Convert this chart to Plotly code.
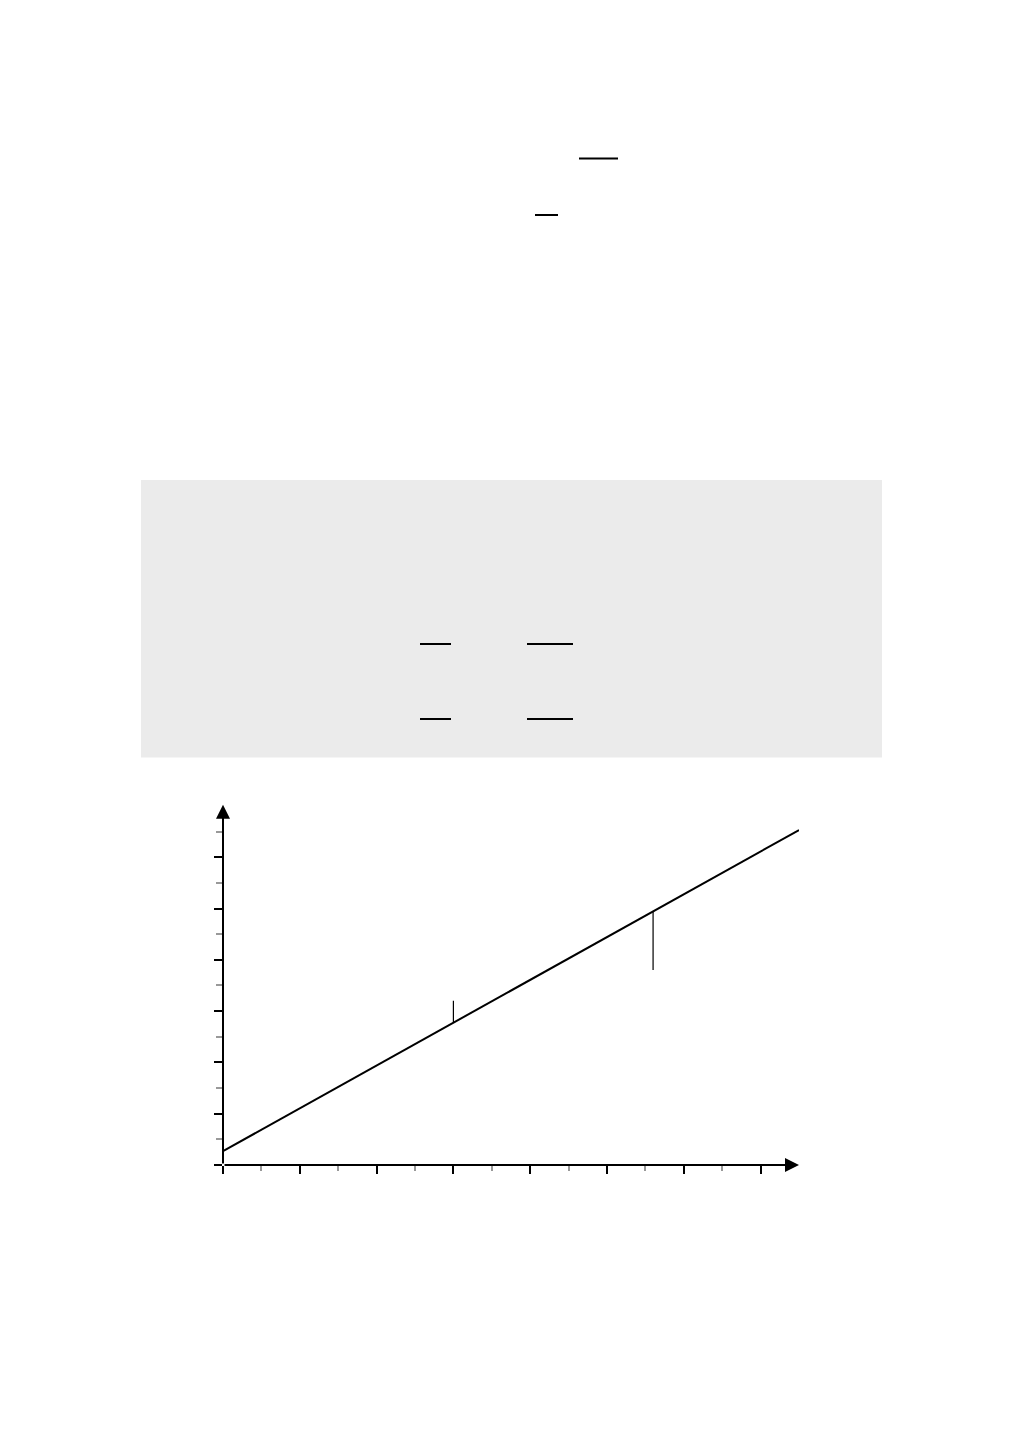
import plotly.graph_objects as go

W, H = 1009, 1441

# ---- data ----
line_x = [0.0, 7.5]
line_y = [0.27, 6.53]
obs_x = [3.0, 5.6]
obs_y = [3.2, 3.8]
fit_y = [2.77, 4.95]
x_major = [0, 1, 2, 3, 4, 5, 6, 7]
x_minor = [0.5, 1.5, 2.5, 3.5, 4.5, 5.5, 6.5]
y_major = [0, 1, 2, 3, 4, 5, 6]
y_minor = [0.5, 1.5, 2.5, 3.5, 4.5, 5.5, 6.5]
x_max, y_max = 7.5, 7.02


def px(x):
    return x / W


def py(y):
    return 1 - y / H


fig = go.Figure()

fig.add_trace(go.Scatter(x=line_x, y=line_y, mode="lines",
                         line=dict(color="black", width=2), hoverinfo="skip"))
rx, ry = [], []
for x, o, f in zip(obs_x, obs_y, fit_y):
    rx += [x, x, None]
    ry += [o, f, None]
fig.add_trace(go.Scatter(x=rx, y=ry, mode="lines",
                         line=dict(color="black", width=1.2), hoverinfo="skip"))

shapes = []
# grey box
shapes.append(dict(type="rect", xref="paper", yref="paper",
                   x0=px(141), x1=px(882), y0=py(757.5), y1=py(480),
                   fillcolor="#ebebeb", line=dict(width=0), layer="below"))
# fraction bars
for (a, b, y) in [(579, 618, 158.5), (535, 558, 215), (420, 451, 644), (527, 573, 644),
                  (420, 451, 719), (527, 573, 719)]:
    shapes.append(dict(type="line", xref="paper", yref="paper",
                       x0=px(a), x1=px(b), y0=py(y), y1=py(y),
                       line=dict(color="black", width=2)))

annotations = [
    dict(x=x_max, y=0, ax=0, ay=0, xref="x", yref="y", axref="x", ayref="y",
         showarrow=True, arrowhead=2, arrowsize=1.4, arrowwidth=2, arrowcolor="black", text=""),
    dict(x=0, y=y_max, ax=0, ay=0, xref="x", yref="y", axref="x", ayref="y",
         showarrow=True, arrowhead=2, arrowsize=1.4, arrowwidth=2, arrowcolor="black", text=""),
]

fig.update_layout(
    width=W, height=H, margin=dict(l=0, r=0, t=0, b=0),
    paper_bgcolor="white", plot_bgcolor="rgba(0,0,0,0)",
    showlegend=False, shapes=shapes, annotations=annotations,
    xaxis=dict(domain=[px(223), px(799)], range=[0, x_max], showgrid=False, zeroline=False,
               showline=False, showticklabels=False, tickmode="array", tickvals=x_major,
               ticks="outside", ticklen=8, tickwidth=2, tickcolor="black",
               minor=dict(tickmode="array", tickvals=x_minor, ticks="outside", ticklen=5,
                          tickwidth=1.5, tickcolor="#999999", showgrid=False),
               fixedrange=True),
    yaxis=dict(domain=[py(1165), py(1165 - y_max * 51.3)], range=[0, y_max], showgrid=False,
               zeroline=False, showline=False, showticklabels=False, tickmode="array",
               tickvals=y_major, ticks="outside", ticklen=8, tickwidth=2, tickcolor="black",
               minor=dict(tickmode="array", tickvals=y_minor, ticks="outside", ticklen=6,
                          tickwidth=1.5, tickcolor="#999999", showgrid=False),
               fixedrange=True),
)

fig.write_html("out.html", config={"displayModeBar": False},
               post_script="document.body.style.margin='0';document.body.style.overflow='hidden';")
